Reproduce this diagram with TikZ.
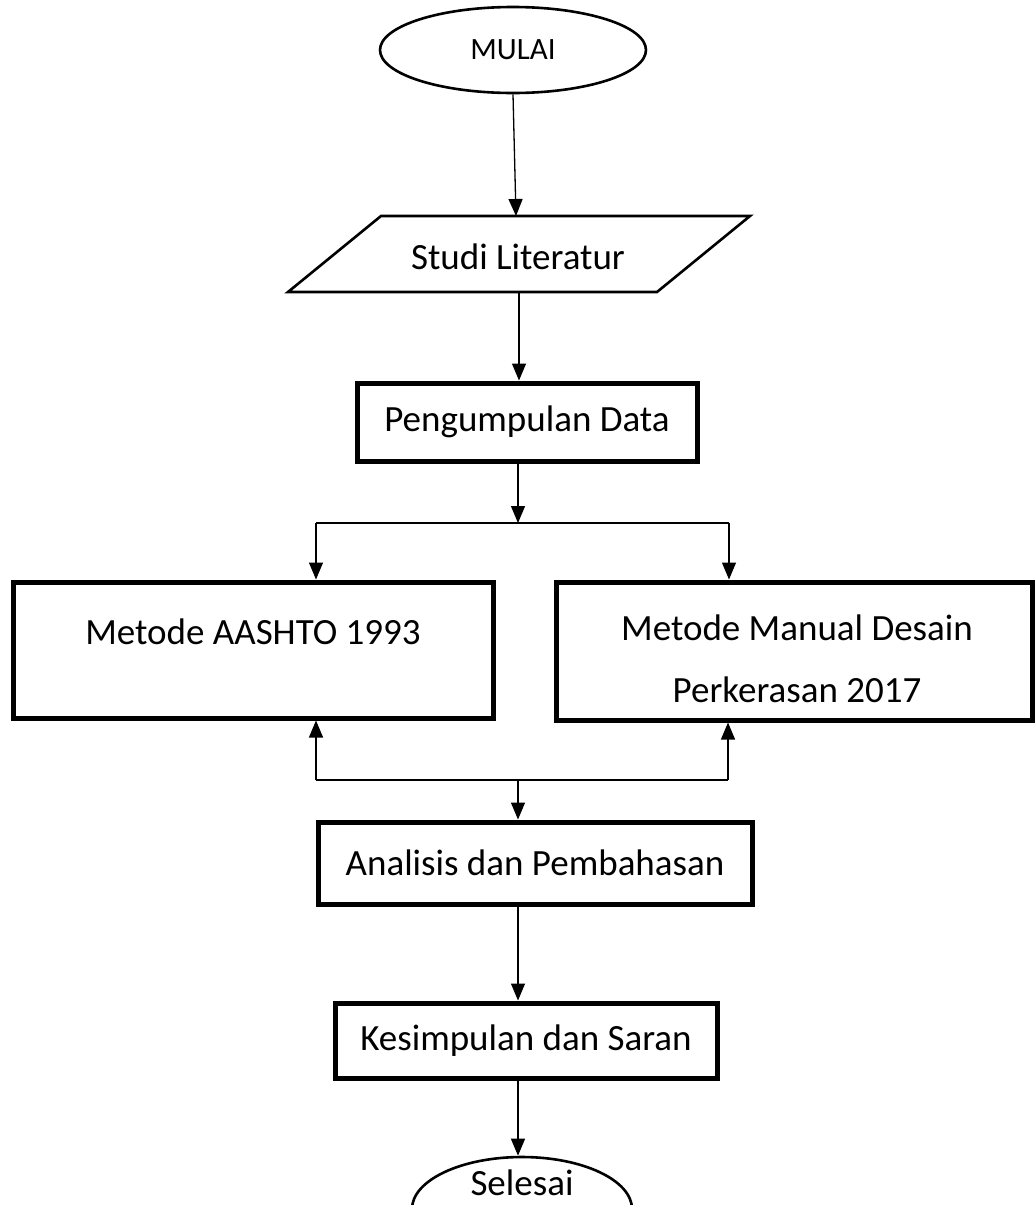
\documentclass[tikz,border=0pt]{standalone}
\usepackage{fontspec}
\setmainfont{Carlito}
\usetikzlibrary{shapes.geometric,arrows.meta}
\begin{document}
\begin{tikzpicture}[x=1pt,y=-1pt,
  txt/.style={inner sep=0pt, font=\fontsize{37}{44}\selectfont},
  box/.style={draw, line width=5pt, inner sep=0pt, font=\fontsize{37}{44}\selectfont},
  term/.style={draw, ellipse, line width=2.6pt, inner sep=0pt},
  conn/.style={line width=1.3pt, -{Triangle[width=14pt,length=17pt]}},
  plain/.style={line width=1.3pt}]
\useasboundingbox (0,0) rectangle (1035,1205);
% start
\node[term, minimum width=266pt, minimum height=86pt, font=\fontsize{31}{36}\selectfont] (mulai) at (513,50) {MULAI};
% parallelogram
\draw[line width=2.6pt, line join=miter] (381,216) -- (750,216) -- (657,292) -- (288,292) -- cycle;
\coordinate (stTop) at (516,216);
\coordinate (stBot) at (519,292);
\node[txt] (studi) at (518,257) {Studi Literatur};
% boxes
\node[box, minimum width=340pt, minimum height=78pt] (pengumpulan) at (527,422) {Pengumpulan Data};
\node[box, minimum width=480pt, minimum height=136pt] (aashto) at (253,650) {};
\node[txt] (aashtotext) at (253,632) {Metode AASHTO 1993};
\node[box, minimum width=476pt, minimum height=138pt] (mdp) at (794,651) {};
\node[txt, align=center, font=\fontsize{37}{62}\selectfont] (mdptext) at (797,659) {Metode Manual Desain\\Perkerasan 2017};
\node[box, minimum width=434pt, minimum height=82pt] (analisis) at (535,863) {Analisis dan Pembahasan};
\node[box, minimum width=382pt, minimum height=75pt] (kesimpulan) at (526,1040.5) {Kesimpulan dan Saran};
% end
\node[term, minimum width=220pt, minimum height=104pt] (selesai) at (522,1209) {};
\node[txt] (selesaitext) at (522,1183) {Selesai};
% connectors
\draw[conn] (mulai.south) -- (stTop);
\draw[conn] (stBot) -- (stBot |- pengumpulan.north);
\coordinate (split) at (518,523);
\coordinate (sl) at (316,523);
\coordinate (sr) at (729,523);
\draw[conn] (pengumpulan.south -| split) -- (split);
\draw[plain] (sl) -- (sr);
\draw[conn] (sl) -- (sl |- aashto.north);
\draw[conn] (sr) -- (sr |- mdp.north);
\coordinate (jl) at (316,780);
\coordinate (jr) at (728,780);
\coordinate (join) at (518,780);
\draw[conn] (jl) -- (jl |- aashto.south);
\draw[conn] (jr) -- (jr |- mdp.south);
\draw[plain] (jl) -- (jr);
\draw[conn] (join) -- (join |- analisis.north);
\draw[conn] (analisis.south -| join) -- (join |- kesimpulan.north);
\draw[conn] (kesimpulan.south -| join) -- (join |- selesai.north);
\end{tikzpicture}
\end{document}
